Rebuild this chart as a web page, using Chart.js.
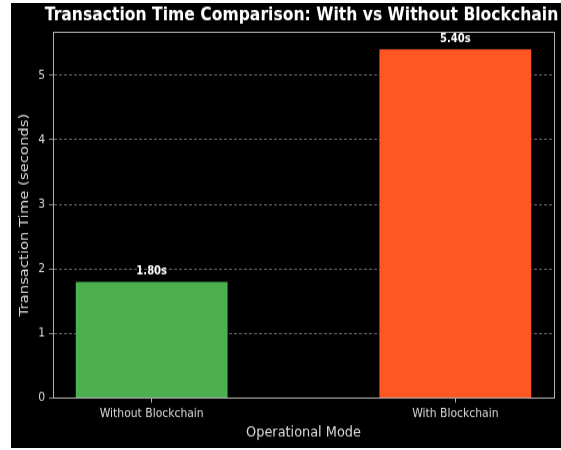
<!DOCTYPE html>
<html>
<head>
<meta charset="utf-8">
<script src="https://cdn.jsdelivr.net/npm/chart.js@4/dist/chart.umd.min.js"></script>
<style>
  html, body { margin: 0; padding: 0; background: #ffffff; }
  #frame { position: absolute; left: 11px; top: 3px; width: 550px; height: 445px; background: #000000; overflow: hidden; }
  #stretch { width: 550px; height: 387px; transform: scaleY(1.15); transform-origin: 0 0; }
  canvas { display: block; }
</style>
</head>
<body>
<div id="frame"><div id="stretch"><canvas id="chart" width="550" height="387"></canvas></div></div>
<script>
// Mean transaction time per operational mode
const categories = ['Without Blockchain', 'With Blockchain'];
const transactionTimes = [1.80, 5.40];
const barColors = ['#4caf50', '#ff5722'];
const yTicks = [0, 1, 2, 3, 4, 5];

const chartTitle = 'Transaction Time Comparison: With vs Without Blockchain';
const FONT = '"DejaVu Sans", sans-serif';

// Title centred over the plotting area
const titlePlugin = {
  id: 'areaTitle',
  afterDraw(chart) {
    const { ctx, chartArea } = chart;
    ctx.save();
    ctx.font = 'bold 15.6px ' + FONT;
    ctx.fillStyle = '#ffffff';
    ctx.textAlign = 'center';
    ctx.textBaseline = 'middle';
    ctx.fillText(chartTitle, (chartArea.left + chartArea.right) / 2 - 2, 11.3);
    ctx.restore();
  }
};

// Full box around the plotting area
const framePlugin = {
  id: 'areaFrame',
  afterDraw(chart) {
    const { ctx, chartArea } = chart;
    ctx.save();
    ctx.strokeStyle = '#b0b0b0';
    ctx.lineWidth = 1;
    ctx.strokeRect(Math.round(chartArea.left) + 0.5, Math.round(chartArea.top) + 0.5,
      Math.round(chartArea.right - chartArea.left), Math.round(chartArea.bottom - chartArea.top));
    ctx.restore();
  }
};

// Value labels above each bar
const valueLabels = {
  id: 'valueLabels',
  afterDatasetsDraw(chart) {
    const { ctx } = chart;
    const meta = chart.getDatasetMeta(0);
    ctx.save();
    ctx.font = 'bold 10px ' + FONT;
    ctx.fillStyle = '#ffffff';
    ctx.textAlign = 'center';
    ctx.textBaseline = 'middle';
    meta.data.forEach((bar, i) => {
      ctx.fillText(transactionTimes[i].toFixed(2) + 's', bar.x, bar.y - 8.7);
    });
    ctx.restore();
  }
};

new Chart(document.getElementById('chart'), {
  type: 'bar',
  data: {
    datasets: [{
      data: transactionTimes.map((v, i) => ({ x: i, y: v })),
      backgroundColor: barColors,
      borderWidth: 0,
      categoryPercentage: 1,
      barPercentage: 0.5
    }]
  },
  options: {
    responsive: false,
    animation: false,
    devicePixelRatio: 1,
    layout: { padding: { top: 25.2, right: 7, left: 0, bottom: 0 } },
    plugins: { legend: { display: false }, tooltip: { enabled: false }, title: { display: false } },
    scales: {
      x: {
        type: 'linear',
        offset: false,
        min: -0.325,
        max: categories.length - 1 + 0.325,
        afterBuildTicks(scale) { scale.ticks = categories.map((_, i) => ({ value: i })); },
        afterFit(scale) { scale.height = 43.5; },
        ticks: {
          color: '#d8d8d8',
          font: { family: FONT, size: 10.8 },
          padding: 3.5,
          maxRotation: 0,
          autoSkip: false,
          callback: (v) => categories[v]
        },
        grid: { offset: false, drawOnChartArea: false, drawTicks: true, tickLength: 4, color: '#b0b0b0' },
        border: { color: '#b0b0b0' },
        title: {
          display: true,
          text: 'Operational Mode',
          color: '#dddddd',
          font: { family: FONT, size: 12.9 },
          padding: { top: 0, bottom: 6 }
        }
      },
      y: {
        z: 1,
        min: 0,
        max: Math.max(...transactionTimes) * 1.05,
        afterBuildTicks(scale) { scale.ticks = yTicks.map(v => ({ value: v })); },
        afterFit(scale) { scale.width = 42; },
        ticks: {
          color: '#d8d8d8',
          font: { family: FONT, size: 10.8 },
          padding: 4
        },
        grid: {
          color: 'rgba(255,255,255,0.5)',
          lineWidth: 0.8,
          tickColor: '#b0b0b0',
          tickBorderDash: [],
          tickLength: 4
        },
        border: { color: '#b0b0b0', dash: [3, 2] },
        title: {
          display: true,
          text: 'Transaction Time (seconds)',
          color: '#dddddd',
          font: { family: FONT, size: 12.9 },
          padding: { top: 6, bottom: 0 }
        }
      }
    }
  },
  plugins: [titlePlugin, framePlugin, valueLabels]
});
</script>
</body>
</html>
